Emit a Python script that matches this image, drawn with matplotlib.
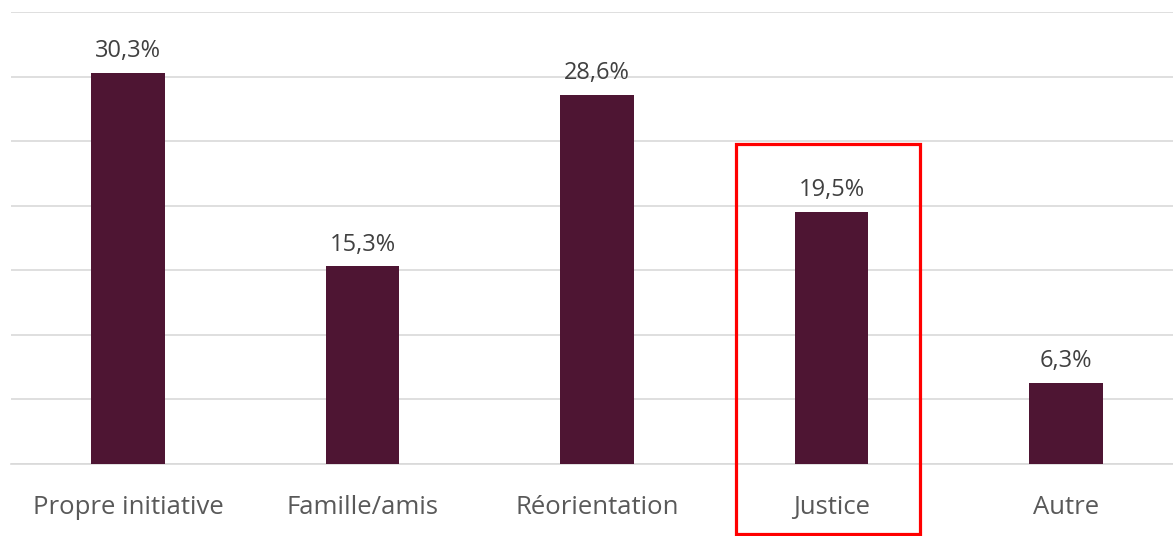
import matplotlib
matplotlib.use("Agg")
import matplotlib.pyplot as plt
from matplotlib.patches import Rectangle

categories = ["Propre initiative", "Famille/amis", "Réorientation", "Justice", "Autre"]
values = [30.3, 15.3, 28.6, 19.5, 6.3]
labels = ["30,3%", "15,3%", "28,6%", "19,5%", "6,3%"]
highlight = "Justice"

plt.rcParams['font.family'] = ['Open Sans', 'DejaVu Sans']

fig = plt.figure(figsize=(11.73, 5.36), dpi=100)
ax = fig.add_axes([10.75/1173, 72/536, 1172.5/1173, 452/536])

x = range(len(categories))
bars = ax.bar(x, values, width=0.315, color="#4E1533", zorder=3)

for b, lab in zip(bars, labels):
    ax.annotate(lab, (b.get_x() + b.get_width()/2, b.get_height()),
                xytext=(0, 7), textcoords="offset points",
                ha="center", va="bottom", fontsize=17, color="#404040")

ax.set_xlim(-0.5, len(categories) - 0.5)
ax.set_ylim(0, 35)
ax.set_yticks(range(0, 36, 5))
ax.yaxis.grid(True, color="#D9D9D9", linewidth=1.2, zorder=0)
ax.tick_params(axis="y", left=False, labelleft=False)
ax.set_xticks(list(x))
ax.set_xticklabels(categories, fontsize=18.5, color="#595959")
ax.tick_params(axis="x", length=0, pad=22)
for s in ["top", "right", "left"]:
    ax.spines[s].set_visible(False)
ax.spines["bottom"].set_color("#D9D9D9")
ax.spines["bottom"].set_linewidth(1.2)

# red box around the highlighted category
i = categories.index(highlight)
ax.add_patch(Rectangle((i - 0.407, -5.45), 0.784, 24.8 + 5.45, fill=False,
                       edgecolor="red", linewidth=2.3, clip_on=False, zorder=4))

fig.savefig("out.png", dpi=100)
